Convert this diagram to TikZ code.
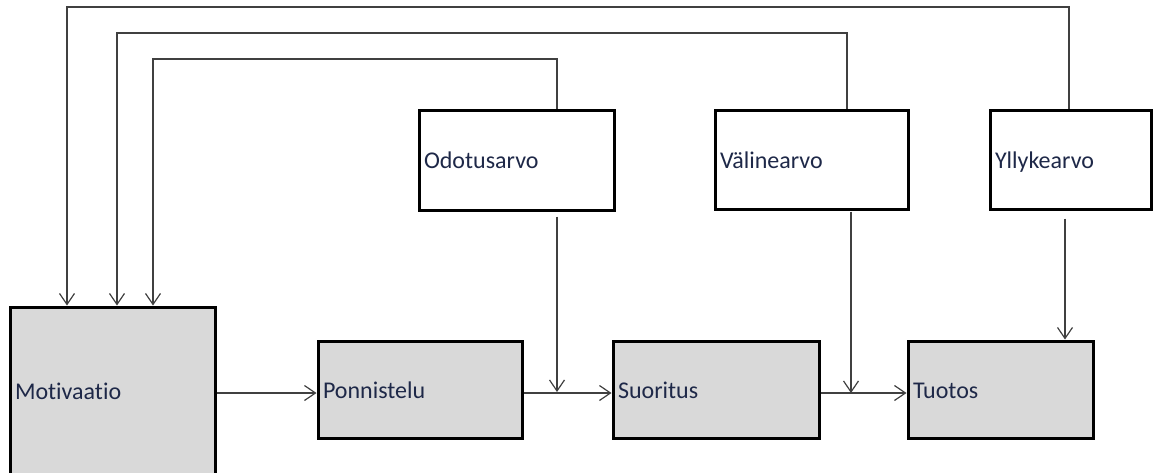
\documentclass[tikz,border=0pt]{standalone}
\usepackage{fontspec}
\setmainfont{Carlito}[Ligatures=NoCommon]
\usetikzlibrary{arrows.meta,calc}
\definecolor{boxfill}{RGB}{217,217,217}
\definecolor{linegray}{RGB}{64,64,64}
\definecolor{labelblue}{RGB}{30,40,72}
\tikzset{
  blk/.style={draw=black, line width=3pt, inner xsep=5pt, inner ysep=0pt,
    text height=21pt, text depth=4pt,
    align=left, font=\fontsize{24}{27}\selectfont, text=labelblue},
  stage/.style={blk, fill=boxfill},
  factor/.style={blk, fill=white},
  conn/.style={draw=linegray, line width=1.2pt,
    -{Straight Barb[length=11pt,width=15pt,line width=1.2pt]}}
}
\begin{document}
\begin{tikzpicture}[x=1pt,y=-1pt]
\useasboundingbox (0,0) rectangle (1153,472);

% process chain
\node[stage, text width=195pt, minimum height=167pt] (mot) at (112.5,390.5) {Motivaatio};
\node[stage, text width=194pt, minimum height=97pt] (pon) at (420,389.5) {Ponnistelu};
\node[stage, text width=196pt, minimum height=97pt] (suo) at (716,389.5) {Suoritus};
\node[stage, text width=175pt, minimum height=97pt] (tuo) at (1000.5,389.5) {Tuotos};

% value factors
\node[factor, text width=185pt, minimum height=100pt] (odo) at (516.5,160) {Odotusarvo};
\node[factor, text width=183pt, minimum height=99pt] (val) at (811.5,159.5) {Välinearvo};
\node[factor, text width=151pt, minimum height=99pt] (yll) at (1070.5,159.5) {Yllykearvo};

% level of the horizontal flow
\coordinate (flow) at (0,393);

% main chain
\draw[conn] (mot.east |- flow) -- (pon.west |- flow);
\draw[conn] (pon.east |- flow) -- (suo.west |- flow);
\draw[conn] (suo.east |- flow) -- (tuo.west |- flow);

% feedback loops to motivation
\coordinate (k1) at (153,59);
\coordinate (k2) at (117,33);
\coordinate (k3) at (67,7);
\draw[conn] ($(odo.north)+(40.5,0)$) |- (k1) -- (k1 |- mot.north);
\draw[conn] ($(val.north)+(35.5,0)$) |- (k2) -- (k2 |- mot.north);
\draw[conn] ($(yll.north)+(-1.5,0)$) |- (k3) -- (k3 |- mot.north);

% factors acting on the chain
\coordinate (j1) at (557,392);
\coordinate (j2) at (851,393);
\draw[conn] ($(odo.south)+(40.5,5)$) -- (j1);
\draw[conn] ($(val.south)+(39.5,1)$) -- (j2);
\draw[conn] ($(yll.south)+(-5.5,8)$) -- ($(tuo.north)+(64.5,0)$);
\end{tikzpicture}
\end{document}
